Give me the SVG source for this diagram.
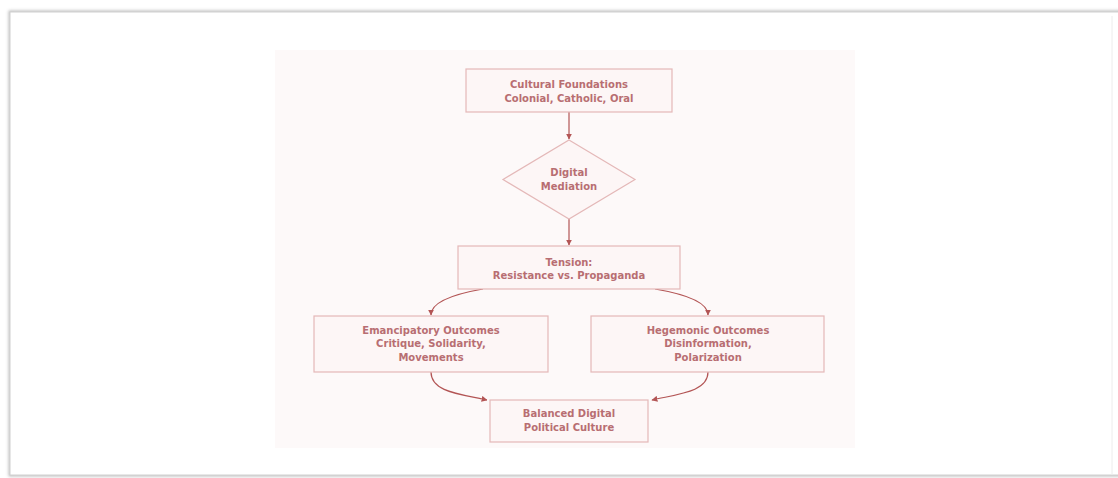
<svg xmlns="http://www.w3.org/2000/svg" width="1118" height="478" viewBox="0 0 1118 478">
<style>
.node rect, .node polygon { fill: #fdf6f6; stroke: #e4b8b8; stroke-width: 1.2; }
.node text { font-family: "DejaVu Sans", Verdana, sans-serif; font-size: 10px; font-weight: bold; fill: #b86e72; text-anchor: middle; }
.edge { fill: none; stroke: #b35555; stroke-width: 1.2; marker-end: url(#arr); }
</style>
<defs>
<marker id="arr" viewBox="0 0 10 10" refX="9" refY="5" markerWidth="6" markerHeight="6" markerUnits="userSpaceOnUse" orient="auto">
<path d="M0,0 L10,5 L0,10 z" fill="#b35555"/>
</marker>
<filter id="sh" x="-5%" y="-5%" width="110%" height="110%">
<feGaussianBlur stdDeviation="1.5"/>
</filter>
</defs>
<rect width="1118" height="478" fill="#ffffff"/>
<g id="frame">
<rect x="10" y="12" width="1110" height="463" fill="none" stroke="#bdbdbd" stroke-width="3" filter="url(#sh)"/>
<rect x="10" y="12" width="1110" height="463" fill="#ffffff" stroke="#d0d0d0" stroke-width="1"/>
<line x1="1112" y1="16" x2="1112" y2="475" stroke="#ececec" stroke-width="1"/>
<rect x="275" y="50" width="580" height="398" fill="#fdf9f9"/>
</g>
<g id="connectors">
<path class="edge" d="M569,112 L569,139"/>
<path class="edge" d="M569,219 L569,245"/>
<path class="edge" d="M483,289 Q431,298 431,315"/>
<path class="edge" d="M655,289 Q708,298 708,315"/>
<path class="edge" d="M431,372 C431,392 460,394 487,400"/>
<path class="edge" d="M708,372 C708,392 678,394 652,400"/>
</g>
<g id="cultural" class="node">
<rect x="466" y="69" width="206" height="43"/>
<text x="569" y="88">Cultural Foundations</text>
<text x="569" y="102">Colonial, Catholic, Oral</text>
</g>
<g id="digital" class="node">
<polygon points="569,140 635,179.5 569,219 503,179.5"/>
<text x="569" y="176">Digital</text>
<text x="569" y="190">Mediation</text>
</g>
<g id="tension" class="node">
<rect x="458" y="246" width="222" height="43"/>
<text x="569" y="266">Tension:</text>
<text x="569" y="279">Resistance vs. Propaganda</text>
</g>
<g id="emancipatory" class="node">
<rect x="314" y="316" width="234" height="56"/>
<text x="431" y="334">Emancipatory Outcomes</text>
<text x="431" y="347">Critique, Solidarity,</text>
<text x="431" y="361">Movements</text>
</g>
<g id="hegemonic" class="node">
<rect x="591" y="316" width="233" height="56"/>
<text x="708" y="334">Hegemonic Outcomes</text>
<text x="708" y="347">Disinformation,</text>
<text x="708" y="361">Polarization</text>
</g>
<g id="balanced" class="node">
<rect x="490" y="400" width="158" height="42"/>
<text x="569" y="417">Balanced Digital</text>
<text x="569" y="431">Political Culture</text>
</g>
</svg>
